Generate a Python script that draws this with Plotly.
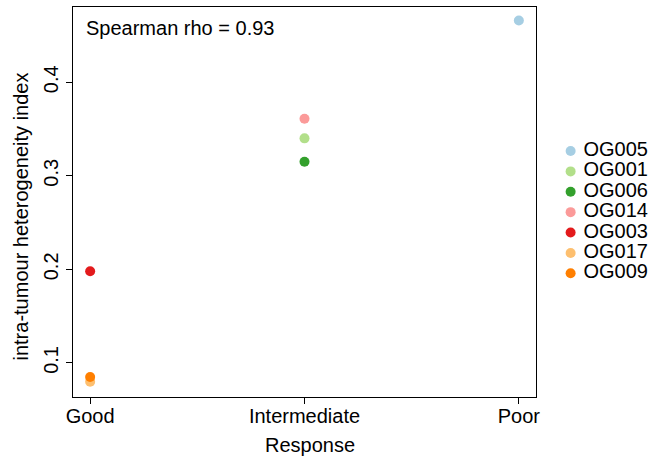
import plotly.graph_objects as go

samples = ["OG005", "OG001", "OG006", "OG014", "OG003", "OG017", "OG009"]
response = ["Poor", "Intermediate", "Intermediate", "Intermediate", "Good", "Good", "Good"]
ith_index = [0.466, 0.340, 0.315, 0.361, 0.198, 0.080, 0.085]
colors = ["#A6CEE3", "#B2DF8A", "#33A02C", "#FB9A99", "#E31A1C", "#FDBF6F", "#FF7F00"]
categories = ["Good", "Intermediate", "Poor"]
y_ticks = [0.1, 0.2, 0.3, 0.4]
rho_text = "Spearman rho = 0.93"
x_title = "Response"
y_title = "intra-tumour heterogeneity index"

FONT = "Liberation Sans, Arial, Helvetica, sans-serif"
FS = 20

# layout geometry (pixels)
W, H = 650, 456
L, T, B = 73, 7, 59
PW = W - L            # paper width (right margin 0)
PH = H - T - B        # paper height
plot_right = 536

fig = go.Figure()
for s, r, v, c in zip(samples, response, ith_index, colors):
    fig.add_trace(go.Scatter(
        x=[r], y=[v], mode="markers", name=s, showlegend=False,
        marker=dict(color=c, size=10, line=dict(width=0)),
        xaxis="x", yaxis="y",
    ))
# legend drawn as a small marker+text column on its own axes
for s, c in zip(samples, colors):
    fig.add_trace(go.Scatter(
        x=[0], y=[s], mode="markers+text", text=[" " + s], textposition="middle right",
        textfont=dict(size=FS, color="black", family=FONT),
        marker=dict(color=c, size=10, line=dict(width=0)),
        showlegend=False, hoverinfo="skip", cliponaxis=False,
        xaxis="x2", yaxis="y2",
    ))

leg_x0, leg_x1 = 560, 650
leg_top, leg_bot = 140.8, 283.5

fig.update_layout(
    width=W, height=H,
    margin=dict(l=L, r=0, t=T, b=B, autoexpand=False),
    paper_bgcolor="white", plot_bgcolor="white",
    font=dict(family=FONT, size=FS, color="black"),
    showlegend=False,
    xaxis2=dict(domain=[(leg_x0 - L) / PW, 1], range=[-1.07, 8], visible=False,
                anchor="y2", fixedrange=True),
    yaxis2=dict(domain=[(T + PH - leg_bot) / PH, (T + PH - leg_top) / PH],
                type="category", categoryorder="array", categoryarray=samples[::-1],
                range=[-0.5, len(samples) - 0.5], visible=False, anchor="x2"),
    annotations=[
        dict(text=rho_text, xref="paper", yref="paper",
             x=(84 - L) / PW, y=(T + PH - 28) / PH, xanchor="left", yanchor="middle",
             showarrow=False, font=dict(size=FS)),
        dict(text=x_title, xref="paper", yref="paper",
             x=(309.5 - L) / PW, y=(T + PH - 445) / PH, xanchor="center", yanchor="middle",
             showarrow=False, font=dict(size=FS)),
        dict(text=y_title, xref="paper", yref="paper", textangle=-90,
             x=(20 - L) / PW, y=(T + PH - 216.5) / PH, xanchor="center", yanchor="middle",
             showarrow=False, font=dict(size=FS)),
    ],
)
fig.layout.xaxis.update(
    domain=[0, (plot_right - L) / PW],
    type="category", categoryorder="array", categoryarray=categories,
    range=[-0.08, 2.08], showline=True, linecolor="black", linewidth=1,
    mirror=True, ticks="outside", ticklen=6, tickcolor="black",
    showgrid=False, zeroline=False, tickfont=dict(size=FS), automargin=False,
    ticklabelstandoff=-5,
)
fig.layout.yaxis.update(
    range=[0.0636, 0.4804], tickvals=y_ticks, ticktext=[str(t) for t in y_ticks],
    tickangle=-90, showline=True, linecolor="black", linewidth=1,
    mirror=True, ticks="outside", ticklen=6, tickcolor="black",
    showgrid=False, zeroline=False, tickfont=dict(size=FS), automargin=False,
)

fig.write_html("out.html", config={"displayModeBar": False},
               post_script="document.body.style.margin='0';document.body.style.padding='0';")
